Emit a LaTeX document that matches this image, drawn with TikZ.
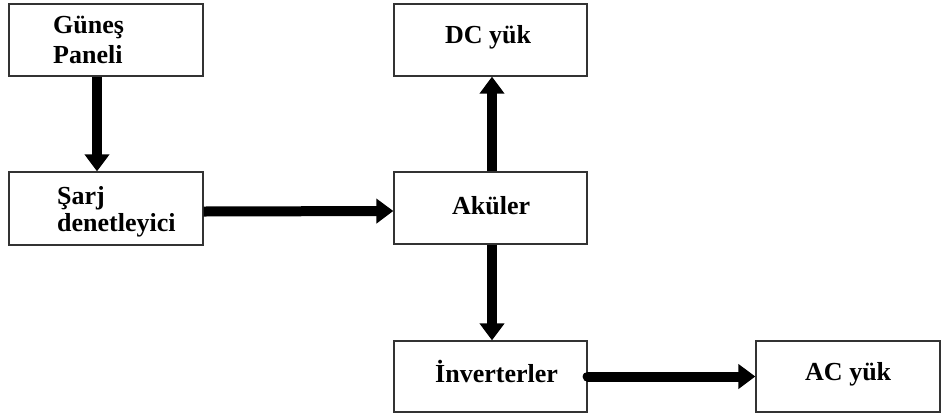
\documentclass[tikz,border=0pt]{standalone}
\usepackage{fontspec}
\setmainfont{Liberation Serif}
\usetikzlibrary{arrows.meta}
\begin{document}
\begin{tikzpicture}[x=1pt,y=1pt,
  blockbox/.style={draw=black!80,line width=1.3pt,fill=white,inner sep=0pt},
  label/.style={font=\fontsize{26}{30}\selectfont\bfseries,inner sep=0pt,anchor=base west},
  flow/.style={line width=10pt,-{Triangle[width=24pt,length=17pt]}}]
\useasboundingbox (0,0) rectangle (942,-416);

% blocks
\node[blockbox,minimum width=194pt,minimum height=72pt] (panel) at (106,-40) {};
\node[blockbox,minimum width=194pt,minimum height=73pt] (sarj) at (106,-208.5) {};
\node[blockbox,minimum width=193pt,minimum height=72pt] (aku) at (490.5,-208) {};
\node[blockbox,minimum width=193pt,minimum height=72pt] (dc) at (490.5,-40) {};
\node[blockbox,minimum width=193pt,minimum height=71pt] (inv) at (490.5,-376.5) {};
\node[blockbox,minimum width=184pt,minimum height=71pt] (ac) at (848,-376.5) {};

% texts, placed on their baselines
\node[label] (panelt1) at (53,-33) {Güneş};
\node[label] (panelt2) at (53,-63) {Paneli};
\node[label] (sarjt1) at (57,-204) {Şarj};
\node[label] (sarjt2) at (57,-231) {denetleyici};
\node[label] (dct) at (445,-43) {DC yük};
\node[label] (akut) at (452,-214) {Aküler};
\node[label] (invt) at (435,-382) {İnverterler};
\node[label] (act) at (805,-380) {AC yük};

% connectors
\draw[flow] ([xshift=-9pt]panel.south) -- ([xshift=-9pt]sarj.north);
\draw[flow] ([yshift=-3pt]sarj.east) -- ([yshift=-3pt]aku.west);
\draw[flow] ([xshift=1.5pt]aku.north) -- ([xshift=1.5pt]dc.south);
\draw[flow] ([xshift=1.5pt]aku.south) -- ([xshift=1.5pt]inv.north);
\draw[flow,line cap=round] (inv.east) -- (ac.west);
\end{tikzpicture}
\end{document}
